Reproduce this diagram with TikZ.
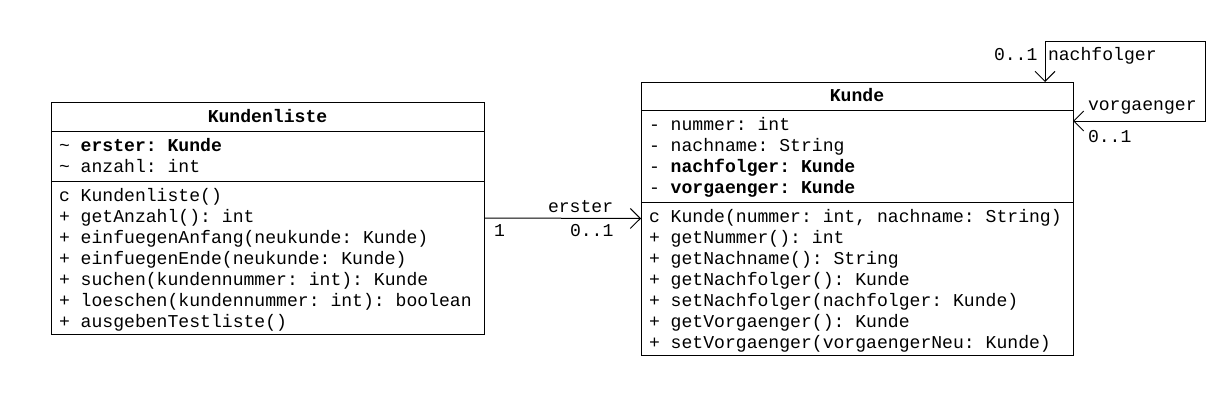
\documentclass[tikz,border=0pt]{standalone}
\usepackage{fontspec}
\setmonofont{Liberation Mono}
\usetikzlibrary{arrows.meta,calc}
\frenchspacing
\tikzset{
  classbox/.style={draw=black, line width=1pt, fill=white, inner sep=0pt, outer sep=0pt, anchor=north west},
  sepline/.style={draw=black, line width=1pt},
  txt/.style={anchor=base west, inner sep=0pt, outer sep=0pt, font=\ttfamily\fontsize{18.1pt}{21pt}\selectfont},
  hdr/.style={anchor=base, inner sep=0pt, outer sep=0pt, font=\ttfamily\bfseries\fontsize{18.1pt}{21pt}\selectfont},
  lbl/.style={anchor=base west, inner sep=0pt, outer sep=0pt, font=\ttfamily\fontsize{18.1pt}{21pt}\selectfont},
  assoc/.style={draw=black, line width=1pt, >={Straight Barb[length=10pt,width=20pt]}},
}
\begin{document}
\begin{tikzpicture}[x=1pt,y=-1pt]
\useasboundingbox[fill=white] (0,0) rectangle (1214,407);

% ---------- Kundenliste ----------
\node[classbox, minimum width=433pt, minimum height=232pt] (kl) at (51,102) {};
\draw[sepline] (51,131) -- (484,131);
\draw[sepline] (51,181) -- (484,181);
\node[hdr] (klh) at (267.5,122) {Kundenliste};
\node[txt] (kla1) at (59,151) {\textasciitilde{} \textbf{erster: Kunde}};
\node[txt] (kla2) at (59,172) {\textasciitilde{} anzahl: int};
\node[txt] (klm1) at (59,201) {c Kundenliste()};
\node[txt] (klm2) at (59,222) {+ getAnzahl(): int};
\node[txt] (klm3) at (59,243) {+ einfuegenAnfang(neukunde: Kunde)};
\node[txt] (klm4) at (59,264) {+ einfuegenEnde(neukunde: Kunde)};
\node[txt] (klm5) at (59,285) {+ suchen(kundennummer: int): Kunde};
\node[txt] (klm6) at (59,306) {+ loeschen(kundennummer: int): boolean};
\node[txt] (klm7) at (59,327) {+ ausgebenTestliste()};

% ---------- Kunde ----------
\node[classbox, minimum width=432pt, minimum height=273pt] (ku) at (641,82) {};
\draw[sepline] (641,110) -- (1073,110);
\draw[sepline] (641,202) -- (1073,202);
\node[hdr] (kuh) at (857,101) {Kunde};
\node[txt] (kua1) at (649,130) {- nummer: int};
\node[txt] (kua2) at (649,151) {- nachname: String};
\node[txt] (kua3) at (649,172) {- \textbf{nachfolger: Kunde}};
\node[txt] (kua4) at (649,193) {- \textbf{vorgaenger: Kunde}};
\node[txt] (kum1) at (649,222) {c Kunde(nummer: int, nachname: String)};
\node[txt] (kum2) at (649,243) {+ getNummer(): int};
\node[txt] (kum3) at (649,264) {+ getNachname(): String};
\node[txt] (kum4) at (649,285) {+ getNachfolger(): Kunde};
\node[txt] (kum5) at (649,306) {+ setNachfolger(nachfolger: Kunde)};
\node[txt] (kum6) at (649,327) {+ getVorgaenger(): Kunde};
\node[txt] (kum7) at (649,348) {+ setVorgaenger(vorgaengerNeu: Kunde)};

% ---------- association erster ----------
\draw[assoc, ->] (kl.east) -- (ku.west);
\node[lbl] (ersterL) at (548,212) {erster};
\node[lbl] (one) at (494,236) {1};
\node[lbl] (zeroA) at (570,236) {0..1};

% ---------- self association ----------
\coordinate (ntop) at ($(ku.north east)+(-28,0)$);
\coordinate (vright) at ($(ku.north east)+(0,39)$);
\coordinate (loopA) at (1205,121);
\coordinate (loopB) at (1205,41);
\coordinate (loopC) at ($(ntop |- loopB)$);
\draw[assoc, <->] (vright) -- (loopA) -- (loopB) -- (loopC) -- (ntop);
\node[lbl] (zeroT) at (994,60) {0..1};
\node[lbl] (nachL) at (1048,60) {nachfolger};
\node[lbl] (vorL) at (1088,110) {vorgaenger};
\node[lbl] (zeroB) at (1088,142) {0..1};
\end{tikzpicture}
\end{document}
